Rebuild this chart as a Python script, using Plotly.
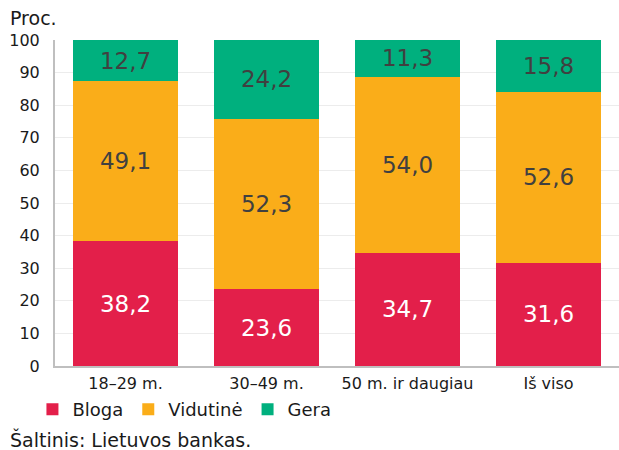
import plotly.graph_objects as go

categories = ["18–29 m.", "30–49 m.", "50 m. ir daugiau", "Iš viso"]
bloga = [38.2, 23.6, 34.7, 31.6]
vidutine = [49.1, 52.3, 54.0, 52.6]
gera = [12.7, 24.2, 11.3, 15.8]

FONT = "DejaVu Sans"

def fmt(v):
    return f"{v:.1f}".replace(".", ",")

fig = go.Figure()
series = [
    ("Bloga", bloga, "#E31F4A", "white"),
    ("Vidutinė", vidutine, "#FAAD19", "#404040"),
    ("Gera", gera, "#00B07E", "#404040"),
]
for name, vals, col, tcol in series:
    fig.add_trace(go.Bar(
        name=name, x=categories, y=vals, marker_color=col,
        marker_line_width=0,
        text=[fmt(v) for v in vals], textposition="inside",
        insidetextanchor="middle",
        textfont=dict(family=FONT, size=23, color=tcol),
        hoverinfo="skip",
    ))

fig.update_layout(
    barmode="stack",
    bargap=0.26,
    width=619, height=450,
    margin=dict(l=55, r=0, t=40, b=84, autoexpand=False),
    plot_bgcolor="white", paper_bgcolor="white",
    font=dict(family=FONT, size=16, color="#1a1a1a"),
    uniformtext=dict(minsize=23, mode="show"),
    legend=dict(orientation="h", x=-0.04, y=-0.077, xanchor="left", yanchor="top",
                font=dict(family=FONT, size=18, color="#1a1a1a"),
                itemwidth=30, tracegroupgap=0, traceorder="normal"),
    showlegend=True,
    annotations=[
        dict(text="Proc.", xref="paper", yref="paper", x=-0.083, y=1.0, yshift=22,
             xanchor="left", yanchor="middle", showarrow=False,
             font=dict(family=FONT, size=19, color="#1a1a1a")),
        dict(text="Šaltinis: Lietuvos bankas.", xref="paper", yref="paper", x=-0.083, y=-0.224,
             xanchor="left", yanchor="middle", showarrow=False,
             font=dict(family=FONT, size=19, color="#1a1a1a")),
    ],
)
fig.update_yaxes(range=[0, 100], dtick=10, showgrid=True, gridcolor="#ececec",
                 showline=True, linecolor="#bfbfbf", linewidth=2,
                 ticks="", ticklabelstandoff=10, automargin=False,
                 tickfont=dict(family=FONT, size=16, color="#1a1a1a"),
                 zeroline=False, fixedrange=True)
fig.update_xaxes(showline=True, linecolor="#bfbfbf", linewidth=2, ticks="",
                 automargin=False, ticklabelstandoff=2, fixedrange=True,
                 tickfont=dict(family=FONT, size=16, color="#1a1a1a"))

fig.write_html("out.html", config={"displayModeBar": False},
               post_script="document.body.style.margin='0';document.body.style.overflow='hidden';")
